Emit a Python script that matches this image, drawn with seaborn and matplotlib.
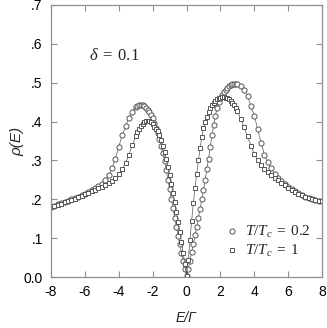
"""
Density of states rho(E) for two temperatures, delta = 0.1.
Values read off the reference figure by eye.
"""

import matplotlib
matplotlib.use("Agg")
from matplotlib import pyplot as plt
from matplotlib.ticker import FixedLocator, FuncFormatter
import pandas as pd
import seaborn as sns

#############################################################

# Energy grid E/Gamma (coarse in the tails, fine around the gap).
energy = [-8.0, -7.8, -7.6, -7.4, -7.2, -7.0, -6.8, -6.6, -6.4, -6.2,
          -6.0, -5.8, -5.6, -5.4, -5.2, -5.0, -4.8, -4.6, -4.4, -4.2,
          -4.0, -3.8, -3.6, -3.4, -3.2, -3.0,
          -2.9, -2.8, -2.7, -2.6, -2.5, -2.4, -2.3, -2.2, -2.1, -2.0,
          -1.9, -1.8, -1.7, -1.6, -1.5, -1.4, -1.3, -1.2, -1.1, -1.0,
          -0.9, -0.8, -0.7, -0.6, -0.5, -0.4, -0.3, -0.2, -0.1, 0.0,
          0.1, 0.2, 0.3, 0.4, 0.5, 0.6, 0.7, 0.8, 0.9, 1.0,
          1.1, 1.2, 1.3, 1.4, 1.5, 1.6, 1.7, 1.8, 1.9, 2.0,
          2.1, 2.2, 2.3, 2.4, 2.5, 2.6, 2.7, 2.8, 2.9,
          3.0, 3.2, 3.4, 3.6, 3.8, 4.0, 4.2, 4.4, 4.6, 4.8,
          5.0, 5.2, 5.4, 5.6, 5.8, 6.0, 6.2, 6.4, 6.6, 6.8,
          7.0, 7.2, 7.4, 7.6, 7.8, 8.0]

# T/Tc = 0.2 (circles)
rho_low_t = [0.181, 0.184, 0.187, 0.190, 0.193, 0.196, 0.200, 0.203, 0.207, 0.211,
             0.215, 0.219, 0.224, 0.229, 0.234, 0.240, 0.250, 0.262, 0.280, 0.305,
             0.335, 0.365, 0.388, 0.410, 0.425, 0.437,
             0.440, 0.442, 0.443, 0.442, 0.440, 0.436, 0.431, 0.425, 0.417, 0.408,
             0.397, 0.384, 0.370, 0.355, 0.338, 0.320, 0.299, 0.276, 0.251, 0.226,
             0.201, 0.177, 0.153, 0.130, 0.107, 0.085, 0.063, 0.042, 0.020, 0.003,
             0.020, 0.042, 0.064, 0.086, 0.108, 0.130, 0.153, 0.176, 0.200, 0.225,
             0.250, 0.278, 0.305, 0.335, 0.365, 0.390, 0.415, 0.435, 0.450, 0.460,
             0.468, 0.476, 0.482, 0.487, 0.491, 0.494, 0.496, 0.497, 0.497,
             0.496, 0.491, 0.480, 0.465, 0.440, 0.415, 0.380, 0.345, 0.315, 0.295,
             0.280, 0.265, 0.255, 0.247, 0.240, 0.233, 0.227, 0.221, 0.216, 0.211,
             0.207, 0.204, 0.201, 0.199, 0.197, 0.196]

# T/Tc = 1 (squares)
rho_tc = [0.180, 0.183, 0.186, 0.189, 0.192, 0.195, 0.198, 0.201, 0.205, 0.209,
          0.213, 0.217, 0.221, 0.225, 0.229, 0.233, 0.237, 0.242, 0.248, 0.255,
          0.264, 0.277, 0.294, 0.315, 0.340, 0.362,
          0.372, 0.381, 0.389, 0.395, 0.399, 0.401, 0.402, 0.401, 0.398, 0.393,
          0.386, 0.380, 0.375, 0.365, 0.352, 0.338, 0.322, 0.303, 0.283, 0.262,
          0.240, 0.217, 0.193, 0.168, 0.143, 0.117, 0.090, 0.062, 0.033, 0.004,
          0.045, 0.095, 0.145, 0.190, 0.230, 0.265, 0.300, 0.333, 0.360, 0.383,
          0.400, 0.413, 0.424, 0.434, 0.442, 0.448, 0.453, 0.457, 0.460, 0.461,
          0.462, 0.462, 0.461, 0.460, 0.457, 0.453, 0.448, 0.442, 0.435,
          0.427, 0.407, 0.385, 0.362, 0.338, 0.317, 0.300, 0.288, 0.278, 0.270,
          0.263, 0.256, 0.249, 0.242, 0.236, 0.230, 0.224, 0.219, 0.214, 0.210,
          0.206, 0.203, 0.200, 0.198, 0.196, 0.195]

series_labels = [r"$T/T_c\;=\;0.2$", r"$T/T_c\;=\;1$"]
x_ticks = [-8, -6, -4, -2, 0, 2, 4, 6, 8]
y_ticks = [0.0, 0.1, 0.2, 0.3, 0.4, 0.5, 0.6, 0.7]

#############################################################

sns.set_style("ticks")
plt.rcParams["font.family"] = ["Liberation Sans", "DejaVu Sans"]
plt.rcParams["axes.unicode_minus"] = False
plt.rcParams["mathtext.fontset"] = "custom"
plt.rcParams["mathtext.rm"] = "Liberation Serif"
plt.rcParams["mathtext.it"] = "Liberation Serif:italic"
plt.rcParams["mathtext.bf"] = "Liberation Serif:bold"

dos_df = pd.DataFrame({"E": energy, "low": rho_low_t, "tc": rho_tc})

fig = plt.figure(figsize=(3.27, 3.28), dpi=100)
ax = fig.add_axes([0.156, 0.155, 0.829, 0.830])

grey = "#555555"
sns.lineplot(data=dos_df, x="E", y="low", ax=ax, sort=False, color=grey, lw=0.5,
             marker="o", markersize=3.7, markerfacecolor="white",
             markeredgecolor=grey, markeredgewidth=0.7, label=series_labels[0])
sns.lineplot(data=dos_df, x="E", y="tc", ax=ax, sort=False, color=grey, lw=0.5,
             marker="s", markersize=3.5, markerfacecolor="white",
             markeredgecolor=grey, markeredgewidth=0.7, label=series_labels[1])

ax.set_xlim(-8, 8)
ax.set_ylim(0, 0.7)
ax.xaxis.set_major_locator(FixedLocator(x_ticks))
ax.yaxis.set_major_locator(FixedLocator(y_ticks))
ax.yaxis.set_major_formatter(FuncFormatter(
    lambda v, pos: "0.0" if abs(v) < 1e-9 else f"{v:.1f}".lstrip("0")))
ax.tick_params(direction="in", length=4, width=0.8, color="#909090",
               top=True, right=True, labelsize=10, pad=6, labelcolor="black")
for spine in ax.spines.values():
    spine.set_color("#909090")
    spine.set_linewidth(0.9)

ax.set_xlabel("E/Γ", fontsize=10, style="italic", labelpad=8)
ax.set_ylabel("ρ(E)", fontsize=11, style="italic", labelpad=-1)

ax.text(-5.75, 0.571, r"$\delta\;=\;0.1$", fontsize=12, va="center")

leg = ax.legend(loc="lower right", bbox_to_anchor=(1.01, 0.015), frameon=False,
                fontsize=11, handlelength=0.6, handletextpad=0.6,
                labelspacing=0.2)
for handle in leg.legend_handles:
    handle.set_linestyle("none")

fig.savefig("out.png", dpi=100)
